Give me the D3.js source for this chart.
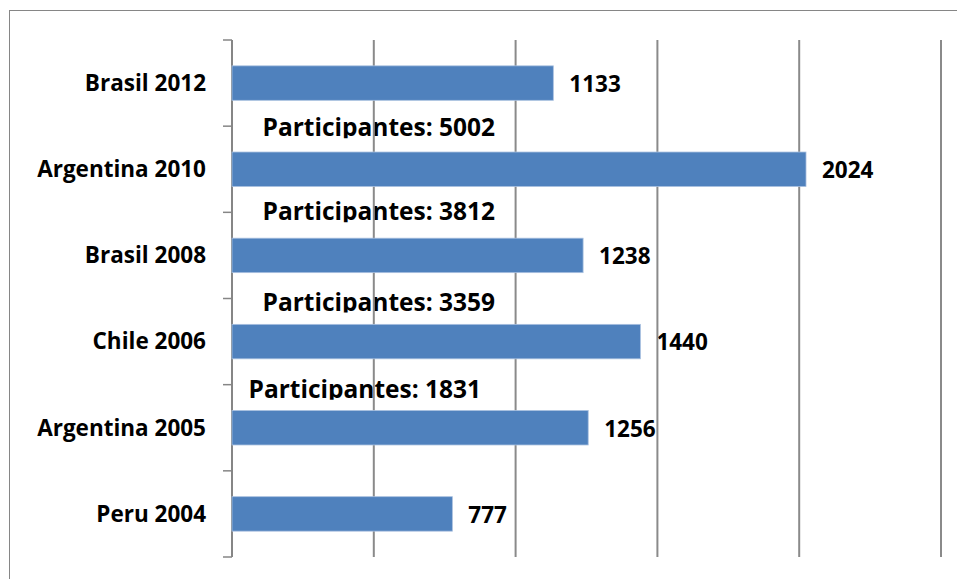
<!DOCTYPE html>
<meta charset="utf-8">
<style>
    body {
        margin: 0;
        background: #fff;
        font-family: "Open Sans", Arial, sans-serif;
    }

    .frame {
        fill: none;
        stroke: #868686;
        stroke-width: 1px;
    }

    .grid line {
        stroke: #8a8a8a;
        stroke-width: 2px;
    }

    .cat-label,
    .val-label,
    .note {
        font-weight: 700;
        fill: #000;
    }
</style>

<body>
    <svg id="chart" width="957" height="579"></svg>

    <script src="https://cdnjs.cloudflare.com/ajax/libs/d3/7.8.5/d3.min.js"></script>
    <script>
        // data, top to bottom
        var categories = ["Brasil 2012", "Argentina 2010", "Brasil 2008", "Chile 2006", "Argentina 2005", "Peru 2004"];
        var values = [1133, 2024, 1238, 1440, 1256, 777];
        var gridValues = [0, 500, 1000, 1500, 2000, 2500];

        // "Participantes" notes placed above some bars
        var noteCategories = ["Argentina 2010", "Brasil 2008", "Chile 2006", "Argentina 2005"];
        var noteCounts = [5002, 3812, 3359, 1831];

        var renderChart = function () {
            var svg = d3.select("#chart");

            var left = 232, right = 941, top = 40, bottom = 557;

            var x = d3.scaleLinear()
                .domain([0, 2500])
                .range([left, right]);

            var y = d3.scaleBand()
                .domain(categories)
                .range([top, bottom])
                .paddingInner(0.6)
                .paddingOuter(0.3);

            var step = y.step();

            // outer chart frame (runs off the right and bottom edge)
            svg.append("rect")
                .attr("class", "frame")
                .attr("x", 9.5)
                .attr("y", 10.5)
                .attr("width", 1000)
                .attr("height", 700);

            // text layer first - grid lines are drawn over it in the original
            var textLayer = svg.append("g");

            textLayer.selectAll(".cat-label")
                .data(categories)
                .enter().append("text")
                .attr("class", "cat-label")
                .attr("x", 206)
                .attr("y", function (d) { return y(d) + y.bandwidth() / 2; })
                .attr("dy", "0.35em")
                .attr("text-anchor", "end")
                .style("font-size", "22.5px")
                .text(function (d) { return d; });

            textLayer.selectAll(".val-label")
                .data(values)
                .enter().append("text")
                .attr("class", "val-label")
                .attr("x", function (d) { return x(d) + 16; })
                .attr("y", function (d, i) { return y(categories[i]) + y.bandwidth() / 2 + 1; })
                .attr("dy", "0.35em")
                .style("font-size", "22.5px")
                .text(function (d) { return d; });

            // the note boxes clip the descenders just under the baseline
            var noteDx = [0, 0, 0, -14];
            var noteDy = [10, 8, 12, 13];
            var defs = svg.append("defs");

            noteCounts.forEach(function (n, i) {
                var bandTop = y(noteCategories[i]) - step * 0.3;
                var base = bandTop + noteDy[i];
                var cx = x(500) + 5 + noteDx[i];

                defs.append("clipPath")
                    .attr("id", "noteclip" + i)
                    .append("rect")
                    .attr("x", cx - 200)
                    .attr("y", base - 40)
                    .attr("width", 400)
                    .attr("height", 42);

                textLayer.append("text")
                    .attr("class", "note")
                    .attr("clip-path", "url(#noteclip" + i + ")")
                    .attr("x", cx)
                    .attr("y", base)
                    .attr("text-anchor", "middle")
                    .style("font-size", "24.5px")
                    .text("Participantes: " + n);
            });

            // vertical grid lines
            svg.append("g")
                .attr("class", "grid")
                .selectAll("line")
                .data(gridValues)
                .enter().append("line")
                .attr("x1", function (d) { return x(d); })
                .attr("x2", function (d) { return x(d); })
                .attr("y1", top)
                .attr("y2", bottom);

            // category axis: ticks on band boundaries
            var boundaries = categories.map(function (c) { return y(c) - step * 0.3; });
            boundaries.push(bottom);

            var axis = svg.append("g");
            axis.append("line")
                .attr("x1", left).attr("x2", left)
                .attr("y1", top).attr("y2", bottom)
                .style("stroke", "#868686")
                .style("stroke-width", 2);
            axis.selectAll(".tick")
                .data(boundaries)
                .enter().append("line")
                .attr("class", "tick")
                .attr("x1", left - 9)
                .attr("x2", left)
                .attr("y1", function (d) { return d; })
                .attr("y2", function (d) { return d; })
                .style("stroke", "#868686")
                .style("stroke-width", 1.5);

            // bars on top of the grid
            svg.append("g")
                .selectAll("rect")
                .data(values)
                .enter().append("rect")
                .attr("x", x(0))
                .attr("y", function (d, i) { return y(categories[i]); })
                .attr("width", function (d) { return x(d) - x(0); })
                .attr("height", y.bandwidth())
                .attr("fill", "#4f81bd")
                .attr("stroke", "#a9c0df")
                .attr("stroke-width", 0.8);
        }
        renderChart();
    </script>
</body>
